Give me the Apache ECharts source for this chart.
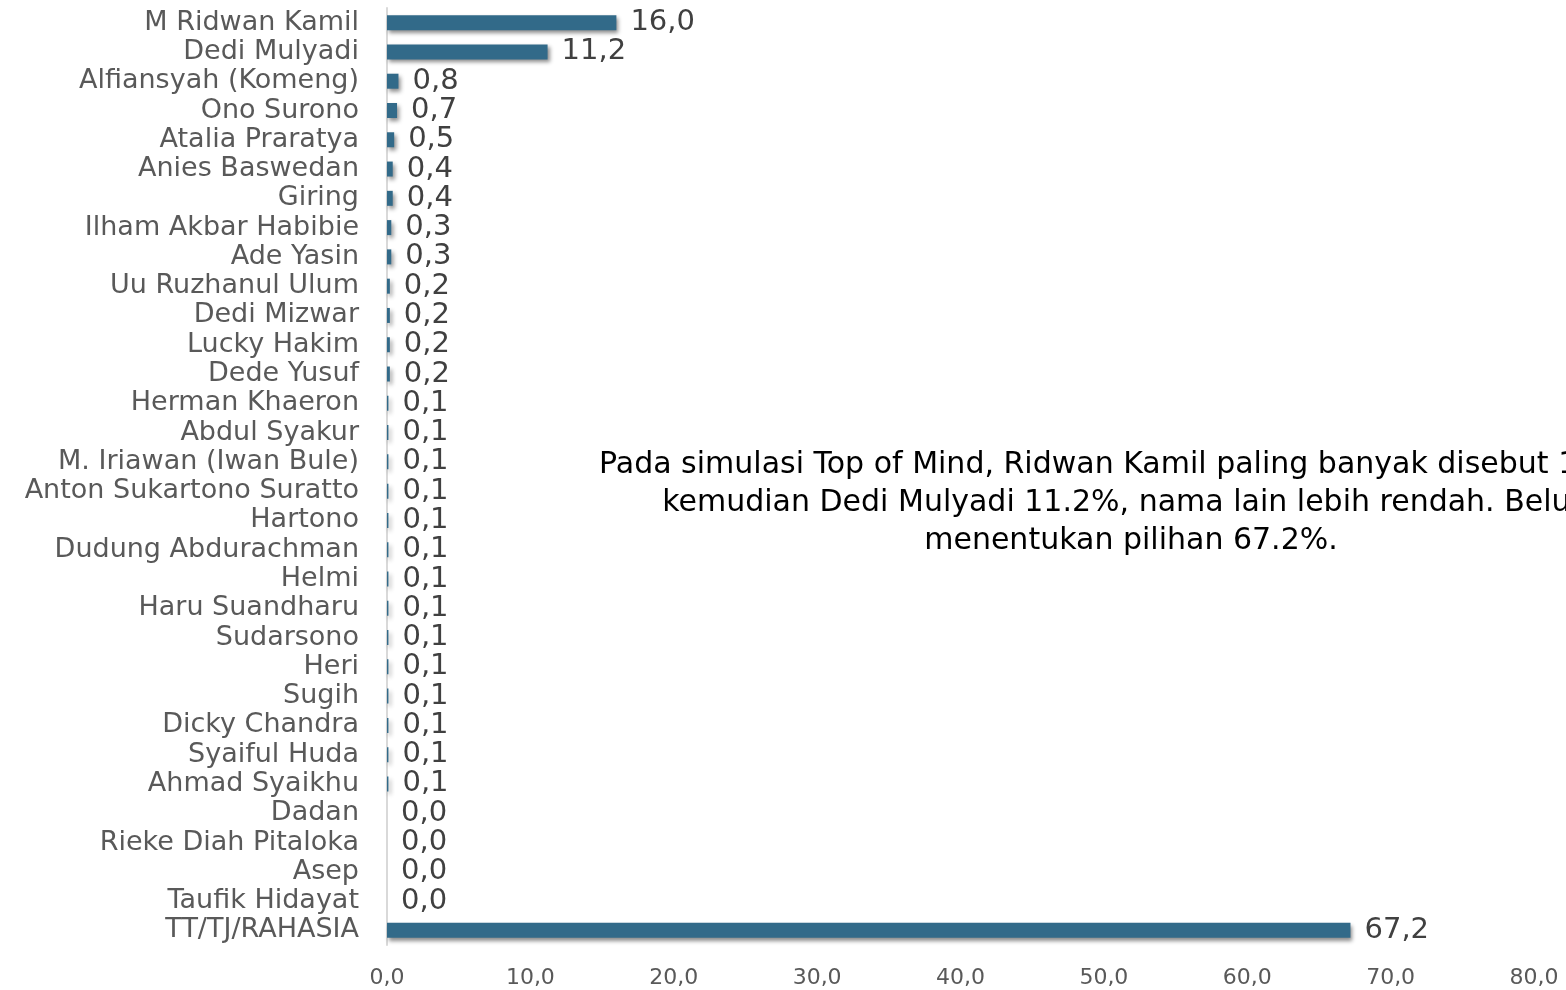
<!DOCTYPE html>
<html>
<head>
<meta charset="utf-8">
<script src="https://cdn.jsdelivr.net/npm/echarts@6/dist/echarts.min.js"></script>
<style>
  html, body { margin: 0; padding: 0; background: #fff; }
  #main { width: 1566px; height: 990px; }
</style>
</head>
<body>
<div id="main"></div>
<script>
var names = ['M Ridwan Kamil', 'Dedi Mulyadi', 'Alfiansyah (Komeng)', 'Ono Surono', 'Atalia Praratya',
  'Anies Baswedan', 'Giring', 'Ilham Akbar Habibie', 'Ade Yasin', 'Uu Ruzhanul Ulum', 'Dedi Mizwar',
  'Lucky Hakim', 'Dede Yusuf', 'Herman Khaeron', 'Abdul Syakur', 'M. Iriawan (Iwan Bule)',
  'Anton Sukartono Suratto', 'Hartono', 'Dudung Abdurachman', 'Helmi', 'Haru Suandharu', 'Sudarsono',
  'Heri', 'Sugih', 'Dicky Chandra', 'Syaiful Huda', 'Ahmad Syaikhu', 'Dadan', 'Rieke Diah Pitaloka',
  'Asep', 'Taufik Hidayat', 'TT/TJ/RAHASIA'];
var values = [16.0, 11.2, 0.8, 0.7, 0.5, 0.4, 0.4, 0.3, 0.3, 0.2, 0.2, 0.2, 0.2,
  0.1, 0.1, 0.1, 0.1, 0.1, 0.1, 0.1, 0.1, 0.1, 0.1, 0.1, 0.1, 0.1, 0.1,
  0.0, 0.0, 0.0, 0.0, 67.2];
var note = 'Pada simulasi Top of Mind, Ridwan Kamil paling banyak disebut 16.0%,\n' +
  'kemudian Dedi Mulyadi 11.2%, nama lain lebih rendah. Belum\n' +
  'menentukan pilihan 67.2%.';

var font = '"Century Gothic", "DejaVu Sans", sans-serif';
function fmt(v) { return v.toFixed(1).replace('.', ','); }

var myChart = echarts.init(document.getElementById('main'));

var option = {
  animation: false,
  grid: { left: 387, right: 32, top: 8, bottom: 45 },
  xAxis: {
    type: 'value',
    min: 0,
    max: 80,
    interval: 10,
    axisLine: { show: false },
    axisTick: { show: false },
    splitLine: { show: false },
    axisLabel: {
      margin: 22,
      color: '#595959',
      fontFamily: font,
      fontSize: 22,
      formatter: fmt
    }
  },
  yAxis: {
    type: 'category',
    inverse: true,
    data: names,
    axisLine: { lineStyle: { color: '#d9d9d9', width: 2 } },
    axisTick: { show: false },
    axisLabel: {
      margin: 28,
      color: '#595959',
      fontFamily: font,
      fontSize: 27,
      interval: 0
    }
  },
  series: [{
    type: 'bar',
    data: values,
    barWidth: 15,
    itemStyle: {
      color: '#326a89',
      shadowColor: 'rgba(0,0,0,0.45)',
      shadowBlur: 4,
      shadowOffsetX: 2,
      shadowOffsetY: 3
    },
    label: {
      show: true,
      position: 'right',
      distance: 14,
      color: '#404040',
      fontFamily: font,
      fontSize: 29,
      formatter: function (p) { return fmt(p.value); }
    }
  }],
  graphic: [{
    type: 'text',
    x: 1131,
    y: 446,
    style: {
      text: note,
      textAlign: 'center',
      fill: '#000',
      font: '30px ' + font,
      lineHeight: 38
    }
  }]
};

myChart.setOption(option);
</script>
</body>
</html>
